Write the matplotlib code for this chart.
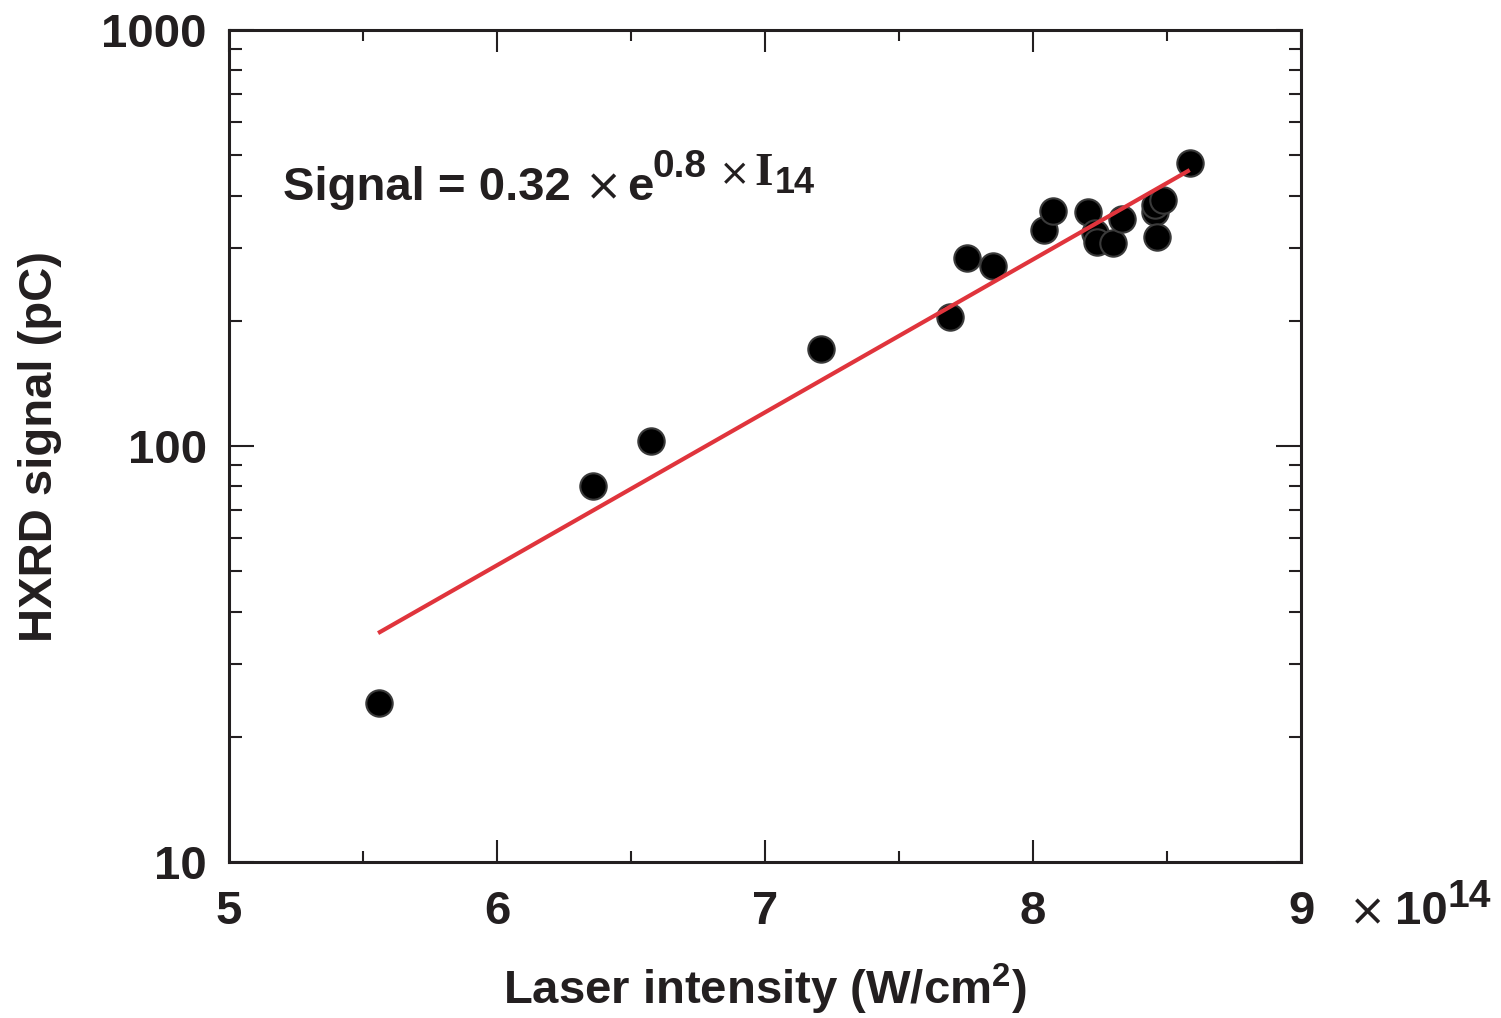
import matplotlib.pyplot as plt
import numpy as np
from matplotlib.ticker import LogLocator, NullFormatter, FixedFormatter, FixedLocator

plt.rcParams['font.family'] = 'Liberation Sans'
plt.rcParams['font.weight'] = 'bold'
plt.rcParams['mathtext.fontset'] = 'custom'
plt.rcParams['mathtext.rm'] = 'Liberation Sans:bold'
plt.rcParams['mathtext.bf'] = 'Liberation Sans:bold'

# laser intensity in units of 1e14 W/cm^2, HXRD signal in pC
intensity = [5.56, 6.36, 6.575, 7.21, 7.69, 7.755, 7.85, 8.04, 8.075, 8.205,
             8.231, 8.239, 8.299, 8.332, 8.455, 8.455, 8.463, 8.485, 8.585]
signal = [24.1, 80, 103, 171, 204, 283, 271, 330, 367, 365,
          325, 309, 308, 351, 365, 380, 318, 390, 479]

# fitted line end points
fit_x = [5.563, 8.578]
fit_y = [35.7, 458]

W, H = 1501, 1018
fig = plt.figure(figsize=(W / 100, H / 100), dpi=100)
ax = fig.add_axes([229 / W, 1 - 862 / H, 1072 / W, 832 / H])

ax.plot(fit_x, fit_y, color='#e0343c', linewidth=3, zorder=3)
ax.plot(intensity, signal, linestyle='none', marker='o', markersize=19,
        markerfacecolor='black', markeredgecolor='#3a3a3a', markeredgewidth=1.5, zorder=2)

ax.set_yscale('log')
ax.set_xlim(5, 9)
ax.set_ylim(10, 1000)

ax.xaxis.set_major_locator(FixedLocator([5, 6, 7, 8, 9]))
ax.xaxis.set_minor_locator(FixedLocator([5.5, 6.5, 7.5, 8.5]))
ax.xaxis.set_major_formatter(FixedFormatter(['5', '6', '7', '8', '9']))
ax.yaxis.set_major_locator(FixedLocator([10, 100, 1000]))
ax.yaxis.set_major_formatter(FixedFormatter(['10', '100', '1000']))
ax.yaxis.set_minor_locator(LogLocator(base=10, subs=np.arange(2, 10)))
ax.yaxis.set_minor_formatter(NullFormatter())

ax.tick_params(axis='both', which='both', direction='in', top=True, right=True,
               width=1.5, color='#231f20', labelsize=34, labelcolor='#231f20')
ax.tick_params(axis='x', which='major', length=16, pad=20)
ax.tick_params(axis='x', which='minor', length=8)
ax.tick_params(axis='y', which='major', length=18, pad=16)
ax.tick_params(axis='y', which='minor', length=9)
for s in ax.spines.values():
    s.set_linewidth(2.2)
    s.set_color('#231f20')

ax.set_xlabel('Laser intensity (W/cm$^{2}$)', fontsize=34, fontweight='bold',
              labelpad=20, color='#231f20')
ax.set_ylabel('HXRD signal (pC)', fontsize=34, fontweight='bold', labelpad=28,
              color='#231f20')


def put(px, py, s, size, weight='bold', family='Liberation Sans'):
    # place a text piece by its left baseline point in pixel coordinates
    fig.text(px / W, 1 - py / H, s, fontsize=size, fontweight=weight,
             family=family, ha='left', va='baseline', color='#231f20')


# fit formula
put(283, 200, 'Signal = 0.32', 34)
put(585, 200, '\u00d7', 32, 'normal', 'DejaVu Sans')
put(627, 200, 'e', 34)
put(652, 177, '0.8', 28)
put(719, 185, '\u00d7', 27, 'normal', 'DejaVu Sans')
put(754, 185, 'I', 34, 'bold', 'Liberation Serif')
put(775, 193, '14', 26)

# axis multiplier
put(1349, 925, '\u00d7', 32, 'normal', 'DejaVu Sans')
put(1395, 924, '10', 34)
put(1448, 907, '14', 28)

fig.savefig('out.png', dpi=100)
